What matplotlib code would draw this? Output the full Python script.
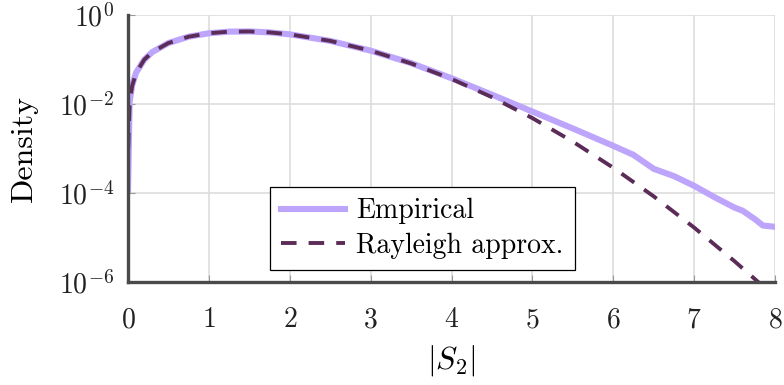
import matplotlib
matplotlib.use('Agg')
import matplotlib.pyplot as plt

plt.rcParams['font.family'] = 'serif'
plt.rcParams['font.serif'] = ['cmr10']
plt.rcParams['mathtext.fontset'] = 'cm'
plt.rcParams['axes.unicode_minus'] = False
plt.rcParams['axes.formatter.use_mathtext'] = True

# Empirical density of |S2| (histogram estimate)
emp_x = [0.0, 0.02, 0.05, 0.1, 0.2, 0.3, 0.5, 0.75, 1.0, 1.25, 1.5, 1.75, 2.0, 2.5,
         3.0, 3.5, 4.0, 4.5, 5.0, 5.5, 6.0, 6.25, 6.5, 6.75, 7.0, 7.25, 7.5, 7.6,
         7.75, 7.85, 8.0]
emp_y = [1.2e-4, 0.011, 0.026, 0.051, 0.099, 0.147, 0.235, 0.326, 0.389, 0.423,
         0.427, 0.407, 0.368, 0.262, 0.158, 0.083, 0.038, 0.0162, 0.00676,
         0.00282, 0.00115, 7.2e-4, 3.5e-4, 2.4e-4, 1.45e-4, 8.1e-5, 4.7e-5,
         4.0e-5, 2.6e-5, 1.86e-5, 1.74e-5]

# Rayleigh approximation
ray_x = [0.002, 0.02, 0.05, 0.1, 0.2, 0.3, 0.5, 0.75, 1.0, 1.25, 1.5, 1.75, 2.0,
         2.5, 3.0, 3.5, 4.0, 4.5, 5.0, 5.5, 6.0, 6.5, 7.0, 7.5, 7.75, 7.8, 8.0]
ray_y = [0.001, 0.0100, 0.025, 0.0499, 0.0990, 0.1467, 0.2349, 0.3258, 0.3894,
         0.4229, 0.4273, 0.4069, 0.3679, 0.2620, 0.1581, 0.0818, 0.0366, 0.01423,
         0.004826, 0.001429, 3.70e-4, 8.42e-5, 1.675e-5, 2.93e-6, 1.17e-6,
         9.7e-7, 4.5e-7]

x_ticks = [0, 1, 2, 3, 4, 5, 6, 7, 8]
y_ticks = [1e-6, 1e-4, 1e-2, 1e0]

fig = plt.figure(figsize=(7.84, 3.85), dpi=100)
ax = fig.add_axes([0.1633, 0.2675, 0.8252, 0.6935])

ax.plot(emp_x, emp_y, color='#bda5fb', lw=4.4, label='Empirical', solid_joinstyle='round')
ax.plot(ray_x, ray_y, color='#5b2c57', lw=2.8, ls=(0, (4.0, 3.1)), label='Rayleigh approx.')

ax.set_yscale('log')
ax.set_xlim(0, 8)
ax.set_ylim(1e-6, 1e0)
ax.set_xticks(x_ticks)
ax.set_yticks(y_ticks)
ax.minorticks_off()
ax.grid(True, color='#dddddd', lw=1.2)
ax.set_axisbelow(True)

for s in ['top', 'right']:
    ax.spines[s].set_visible(False)
for s in ['left', 'bottom']:
    ax.spines[s].set_color('#4a4a4a')
    ax.spines[s].set_linewidth(2.4)
    ax.spines[s].set_zorder(5)
ax.tick_params(direction='in', length=5, width=0.8, color='#999999',
               labelsize=20, labelcolor='#222222')
ax.tick_params(axis='x', pad=18)
ax.tick_params(axis='y', pad=10)

ax.set_xlabel(r'$|S_2|$', fontsize=23, labelpad=7)
ax.set_ylabel('Density', fontsize=23, labelpad=15)

leg = ax.legend(loc='lower left', bbox_to_anchor=(0.2195, 0.045), fontsize=20,
                frameon=True, fancybox=False, edgecolor='black', framealpha=1,
                handlelength=2.3, handletextpad=0.4, borderpad=0.4,
                labelspacing=0.3, borderaxespad=0)
leg.get_frame().set_linewidth(0.9)

fig.savefig('out.png', dpi=100)
